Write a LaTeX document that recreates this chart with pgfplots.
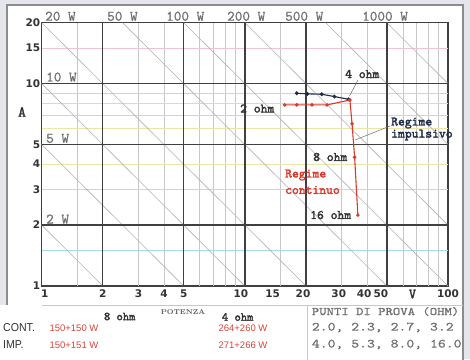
\documentclass[border=0pt]{standalone}
\usepackage{fontspec}
\usepackage{graphicx}
\usepackage{pgfplots}
\pgfplotsset{compat=1.18}
\newfontfamily\djs{DejaVu Sans}
\newfontfamily\lsans{Liberation Sans}
\newfontfamily\monob{lmmono10-regular.otf}[FakeBold=2.2]
\newfontfamily\monom{lmmono10-regular.otf}[FakeBold=0.6]
\definecolor{bg}{HTML}{E4E6EC}
\definecolor{framegray}{HTML}{8C8C8C}
\definecolor{majgray}{HTML}{404040}
\definecolor{mingray}{HTML}{C8C8C8}
\definecolor{pwgray}{HTML}{B4B4B4}
\definecolor{lblgray}{HTML}{6E6E6E}
\definecolor{txtgray}{HTML}{333333}
\definecolor{impcol}{HTML}{1E2A48}
\definecolor{contcol}{HTML}{D83A2C}
\definecolor{redtxt}{HTML}{D8453A}
\definecolor{hpink}{HTML}{F2C4D0}
\definecolor{hgreen}{HTML}{C6E6BE}
\definecolor{hyellow}{HTML}{ECE6A6}
\definecolor{hcyan}{HTML}{A6DCE2}
\newcommand{\mono}[2]{\monom\fontsize{#1}{#2}\selectfont}
\newcommand{\bmono}[2]{\monob\fontsize{#1}{#2}\selectfont}
\begin{document}
\begin{tikzpicture}
% background and frame
\fill[bg] (-41.7pt,-73pt) rectangle (428.3pt,286pt);
\fill[white] (-41.7pt,-76pt) rectangle (421.3pt,-19pt);
\fill[white] (-34.7pt,-19pt) rectangle (421.3pt,281pt);
\draw[framegray, line width=1.4pt] (-34.7pt,-19pt) -- (-34.7pt,281pt) -- (421.3pt,281pt) -- (421.3pt,-76pt);
\begin{axis}[
  at={(0pt,0pt)}, anchor=south west,
  scale only axis, width=406.3pt, height=263.3pt,
  xmode=log, ymode=log,
  xmin=1, xmax=100, ymin=1, ymax=20,
  clip mode=individual,
  axis line style={draw=majgray, line width=1.3pt},
  tick style={draw=none},
  xtick={1,2,3,4,5,10,15,20,30,40,50,100},
  xticklabels={\makebox[0pt]{\hspace*{6pt}1},2,3,4,5,
    \makebox[0pt]{\hspace*{-8pt}10},
    \makebox[0pt]{\hspace*{-16pt}15},
    \makebox[0pt]{\hspace*{-6pt}20},
    \makebox[0pt]{\hspace*{-6pt}30},
    \makebox[0pt]{\hspace*{-6pt}40},
    \makebox[0pt]{\hspace*{-12pt}50},
    100},
  ytick={1,2,3,4,5,10,15,20},
  yticklabels={1,2,3,4,5,10,15,20},
  ticklabel style={font=\djs\bfseries\fontsize{10.5}{12}\selectfont, text=txtgray},
  xticklabel style={yshift=0pt},
  yticklabel style={xshift=2pt},
]
% minor vertical grid
\pgfplotsinvokeforeach{1.5,3,4,6,7,8,9,15,30,40,60,70,80,90}{
  \draw[mingray, line width=0.6pt] (axis cs:#1,1) -- (axis cs:#1,20);
}
% minor horizontal grid (coloured)
\draw[hcyan, line width=0.7pt] (axis cs:1,1.5) -- (axis cs:100,1.5);
\draw[hpink, line width=0.7pt] (axis cs:1,3) -- (axis cs:100,3);
\draw[hyellow, line width=0.7pt] (axis cs:1,4) -- (axis cs:100,4);
\draw[hyellow, line width=0.7pt] (axis cs:1,6) -- (axis cs:100,6);
\draw[hpink, line width=0.7pt] (axis cs:1,7) -- (axis cs:100,7);
\draw[hgreen, line width=0.7pt] (axis cs:1,8) -- (axis cs:100,8);
\draw[hpink, line width=0.7pt] (axis cs:1,9) -- (axis cs:100,9);
\draw[hpink, line width=0.7pt] (axis cs:1,15) -- (axis cs:100,15);
% constant power lines
\addplot[pwgray, line width=0.6pt] coordinates {(0.1,20) (2,1)};
\addplot[pwgray, line width=0.6pt] coordinates {(0.25,20) (5,1)};
\addplot[pwgray, line width=0.6pt] coordinates {(0.5,20) (10,1)};
\addplot[pwgray, line width=0.6pt] coordinates {(1,20) (20,1)};
\addplot[pwgray, line width=0.6pt] coordinates {(2.5,20) (50,1)};
\addplot[pwgray, line width=0.6pt] coordinates {(5,20) (100,1)};
\addplot[pwgray, line width=0.6pt] coordinates {(10,20) (200,1)};
\addplot[pwgray, line width=0.6pt] coordinates {(25,20) (500,1)};
\addplot[pwgray, line width=0.6pt] coordinates {(50,20) (1000,1)};
% major grid
\pgfplotsinvokeforeach{2,5,10,20,50}{
  \draw[majgray, line width=1.3pt] (axis cs:#1,1) -- (axis cs:#1,20);
}
\pgfplotsinvokeforeach{2,5,10}{
  \draw[majgray, line width=1.3pt] (axis cs:1,#1) -- (axis cs:100,#1);
}
% data: regime impulsivo (2.0, 2.3, 2.7, 3.2, 4.0 ohm)
\addplot[impcol, line width=1.1pt, mark=*, mark size=1.3pt, mark options={fill=impcol}]
  coordinates {(18.0,8.96) (20.3,8.90) (23.9,8.86) (27.6,8.63) (32.4,8.37)};
% data: regime continuo (2.0 ... 16.0 ohm)
\addplot[contcol, line width=1.1pt, mark=*, mark size=1.2pt, mark options={fill=contcol}]
  coordinates {(15.7,7.85) (18.0,7.85) (21.4,7.85) (25.4,7.85) (32.9,8.30) (33.7,6.33) (34.7,4.33) (36.0,2.24)};
\end{axis}
% power labels
\begin{scope}[every node/.style={inner sep=0pt, text=lblgray, font=\mono{14.5}{15}}]
\node[anchor=base west] at (3.3pt,265.3pt) {20 W};
\node[anchor=base west] at (65.3pt,265.3pt) {50 W};
\node[anchor=base west] at (124.3pt,265.3pt) {100 W};
\node[anchor=base west] at (185.3pt,265.3pt) {200 W};
\node[anchor=base west] at (243.3pt,265.3pt) {500 W};
\node[anchor=base west] at (320.3pt,265.3pt) {1000 W};
\node[anchor=base west] at (4.3pt,204.5pt) {10 W};
\node[anchor=base west] at (4.3pt,143.3pt) {5 W};
\node[anchor=base west] at (4.3pt,62.5pt) {2 W};
\end{scope}
% axis letters
\node[font=\bmono{15}{15}, text=txtgray] at (-19.7pt,174pt) {A};
\node[font=\bmono{14}{14}, text=txtgray] at (370.8pt,-8pt) {V};
% leaders
\draw[lblgray, line width=0.5pt] (316.3pt,206pt) -- (307.8pt,190pt);
\draw[lblgray, line width=0.5pt] (348.3pt,160pt) -- (313.5pt,146pt);
% in-plot labels
\begin{scope}[every node/.style={inner sep=0pt, anchor=west, font=\bmono{13}{13}}]
\node[text=txtgray] at (303.3pt,212pt) {4 ohm};
\node[text=txtgray] at (198.3pt,177.5pt) {2 ohm};
\node[text=txtgray] at (271.3pt,129pt) {8 ohm};
\node[text=txtgray] at (268.3pt,71pt) {16 ohm};
\node[text=impcol] at (349.3pt,163pt) {Regime};
\node[text=impcol] at (349.3pt,151pt) {impulsivo};
\node[text=contcol] at (243.3pt,111pt) {Regime};
\node[text=contcol] at (243.3pt,96pt) {continuo};
\end{scope}
% table below
\draw[mingray, line width=0.6pt] (0pt,-19pt) -- (421.3pt,-19pt);
\draw[mingray, line width=0.6pt] (265.3pt,-19pt) -- (265.3pt,-76pt);
\node[font=\bmono{12}{12}, text=txtgray] at (78pt,-30.5pt) {8 ohm};
\node[font=\bmono{12}{12}, text=txtgray] at (196pt,-31pt) {4 ohm};
\node[font=\rmfamily\bfseries\fontsize{7}{7}\selectfont, text=txtgray!80] at (141.3pt,-26.5pt) {POTENZA};
\node[anchor=west, inner sep=0pt, text=lblgray] at (270pt,-25.5pt) {\scalebox{1.22}[1]{\mono{11.5}{12}PUNTI DI PROVA (OHM)}};
\node[anchor=west, inner sep=0pt, text=lblgray] at (270pt,-41.5pt) {\scalebox{1.2}[1]{\mono{12.5}{13}2.0, 2.3, 2.7, 3.2}};
\node[anchor=west, inner sep=0pt, text=lblgray] at (270pt,-58.5pt) {\scalebox{1.2}[1]{\mono{12.5}{13}4.0, 5.3, 8.0, 16.0}};
\node[anchor=west, inner sep=0pt, text=txtgray] at (-38.7pt,-42pt) {\scalebox{0.92}[1]{\lsans\fontsize{11.5}{12}\selectfont CONT.}};
\node[anchor=west, inner sep=0pt, text=txtgray] at (-38.7pt,-59pt) {\scalebox{0.92}[1]{\lsans\fontsize{11.5}{12}\selectfont IMP.}};
\node[text=redtxt, font=\lsans\fontsize{9.5}{10}\selectfont] at (32.3pt,-42pt) {150+150 W};
\node[text=redtxt, font=\lsans\fontsize{9.5}{10}\selectfont] at (32.3pt,-59pt) {150+151 W};
\node[text=redtxt, font=\lsans\fontsize{9.5}{10}\selectfont] at (201.3pt,-42pt) {264+260 W};
\node[text=redtxt, font=\lsans\fontsize{9.5}{10}\selectfont] at (201.3pt,-59pt) {271+266 W};
\pgfresetboundingbox
\path (-41.7pt,-73pt) rectangle (428.3pt,286pt);
\end{tikzpicture}
\end{document}
